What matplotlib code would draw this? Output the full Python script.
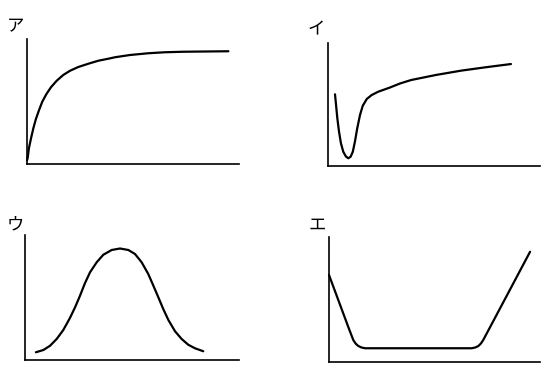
import matplotlib
matplotlib.use("Agg")
import matplotlib.pyplot as plt

plt.rcParams['font.family'] = ['Noto Sans CJK JP', 'DejaVu Sans']

W, H = 556, 384

# ア: 飽和型
a_x = [0, 0.3, 0.9, 1.9, 3.0, 4.2, 5.7, 7.2, 9.1, 11.3, 14.0, 17.1, 20.3, 24.2, 28.9, 33.6, 38.3, 41.5,
       48.6, 57.2, 65.1, 73.7, 84.0, 95.0]
a_y = [3.0, 4.6, 12.6, 20.6, 28.6, 36.0, 43.2, 49.8, 55.8, 61.4, 66.6, 71.2, 74.6, 77.6, 80.2, 82.6, 84.2, 85.4,
       87.2, 88.6, 89.4, 89.8, 90.0, 90.2]

# イ: 谷のあと上昇
i_x = [3.3, 3.8, 4.4, 5.2, 6.1, 7.2, 8.5, 9.6, 10.7, 11.7, 12.7, 13.8, 15.1, 16.4, 18.3, 20.6, 23.7,
       29.2, 34.0, 39.2, 50.9, 62.7, 74.5, 86.3]
i_y = [58.3, 49.6, 38.8, 27.9, 18.5, 11.6, 7.6, 6.3, 7.6, 11.6, 19.8, 30.7, 41.5, 49.0, 54.5, 57.7, 60.4,
       63.8, 67.1, 69.9, 74.0, 77.5, 80.3, 82.9]

# ウ: 山型
u_x = [5.1, 8.6, 11.7, 14.8, 17.9, 21.0, 23.4, 25.7, 28.0, 30.4, 33.5, 36.6, 40.5, 44.4,
       48.3, 51.4, 54.5, 57.6, 60.0, 62.3, 64.6, 67.0, 70.1, 73.2, 76.3, 79.4, 83.3]
u_y = [6.2, 8.0, 11.4, 16.8, 24.0, 33.6, 42.2, 51.4, 61.4, 70.2, 78.2, 84.2, 88.0, 89.2,
       88.0, 84.8, 78.2, 68.8, 59.4, 50.2, 40.8, 32.0, 23.0, 16.8, 12.2, 9.4, 7.0]

# エ: 谷底が平ら
e_x = [0, 4.4, 9.1, 11.5, 12.7, 13.9, 15.4, 17.1, 67.6, 69.3, 70.8, 72.0, 73.1, 77.1, 95.3]
e_y = [69.6, 49.6, 28.2, 17.6, 14.6, 12.8, 11.6, 11.0, 11.0, 11.6, 12.8, 14.8, 17.6, 30.3, 88.2]

panels = [
    ('ア', a_x, a_y, (27, 239, 39, 164), (16, 26)),
    ('イ', i_x, i_y, (328, 540, 43, 166), (316, 29)),
    ('ウ', u_x, u_y, (25, 239, 235, 360), (15, 224)),
    ('エ', e_x, e_y, (329, 540, 237, 362), (317, 225)),
]

fig = plt.figure(figsize=(W / 100, H / 100), dpi=100)

for label, xs, ys, (l, r, t, b), (tx, ty) in panels:
    ax = fig.add_axes([l / W, 1 - b / H, (r - l) / W, (b - t) / H])
    ax.plot(xs, ys, color='black', lw=1.6, clip_on=False, solid_capstyle='round', solid_joinstyle='round')
    ax.set_xlim(0, 100)
    ax.set_ylim(0, 100)
    for s in ['top', 'right']:
        ax.spines[s].set_visible(False)
    for s in ['left', 'bottom']:
        ax.spines[s].set_linewidth(1.2)
    ax.set_xticks([])
    ax.set_yticks([])
    ax.patch.set_alpha(0)
    fig.text(tx / W, 1 - ty / H, label, fontsize=12.5, ha='center', va='center')

fig.savefig('out.png', dpi=100)
